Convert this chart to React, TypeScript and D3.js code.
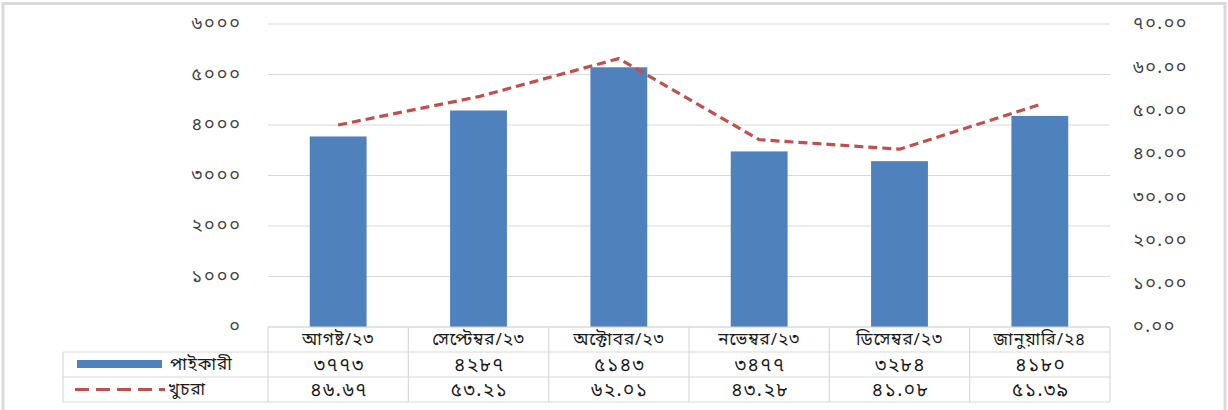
import React from 'react';
import * as d3 from 'd3';

// Monthly wholesale (bars, left axis) and retail (dashed line, right axis) prices.
const months = ['আগষ্ট/২৩', 'সেপ্টেম্বর/২৩', 'অক্টোবর/২৩', 'নভেম্বর/২৩', 'ডিসেম্বর/২৩', 'জানুয়ারি/২৪'];
const wholesale = [3773, 4287, 5143, 3477, 3284, 4180];
const retail = [46.67, 53.21, 62.01, 43.28, 41.08, 51.39];
const leftTicks = [0, 1000, 2000, 3000, 4000, 5000, 6000];
const rightTicks = [0, 10, 20, 30, 40, 50, 60, 70];
const wholesaleLabel = 'পাইকারী';
const retailLabel = 'খুচরা';

const BN = '০১২৩৪৫৬৭৮৯';
const toBn = (s: string) => s.replace(/[0-9]/g, (d) => BN[+d]);

const W = 1228;
const H = 410;
const plot = { left: 268, right: 1110, top: 24, bottom: 327 };
const rows = { cat: 327, r1: 352, r2: 377, end: 402 };
const legendLeft = 63;

const BLUE = '#4F81BD';
const RED = '#C0504D';
const GRID = '#D9D9D9';
const FONT = "'Noto Sans', 'Noto Sans Bengali', 'Vrinda', sans-serif";

export default function App() {
  const x = d3.scaleBand<string>().domain(months).range([plot.left, plot.right]).paddingInner(0).paddingOuter(0);
  const yL = d3.scaleLinear().domain([0, 6000]).range([plot.bottom, plot.top]);
  const yR = d3.scaleLinear().domain([0, 70]).range([plot.bottom, plot.top]);
  const bw = x.bandwidth() * 0.405;

  const line = d3.line<number>()
    .x((_, i) => (x(months[i]) ?? 0) + x.bandwidth() / 2)
    .y((d) => yR(d));

  return (
    <svg width={W} height={H} style={{ position: 'fixed', left: 0, top: 0, background: '#fff' }} fontFamily={FONT}>
      {/* outer frame */}
      <rect x={3} y={3.5} width={W - 6} height={H + 20} fill="none" stroke="#D9D9D9" strokeWidth={3} />

      {/* grid */}
      {leftTicks.map((t) => (
        <line key={t} x1={plot.left} x2={plot.right} y1={yL(t)} y2={yL(t)} stroke={GRID} strokeWidth={1} />
      ))}

      {/* left axis labels */}
      {leftTicks.map((t) => (
        <text key={t} x={242} y={yL(t)} dy="0.3em" textAnchor="end" fontSize={18} letterSpacing={2} fill="#404040">
          {toBn(String(t))}
        </text>
      ))}

      {/* right axis labels */}
      {rightTicks.map((t) => (
        <text key={t} x={1133} y={yR(t)} dy="0.3em" textAnchor="start" fontSize={18} letterSpacing={1.5} fill="#404040">
          {toBn(t.toFixed(2))}
        </text>
      ))}

      {/* bars */}
      {wholesale.map((v, i) => {
        const cx = (x(months[i]) ?? 0) + x.bandwidth() / 2;
        return (
          <rect key={i} x={cx - bw / 2} y={yL(v)} width={bw} height={yL(0) - yL(v)} fill={BLUE} />
        );
      })}

      {/* retail line */}
      <path d={line(retail) ?? ''} fill="none" stroke={RED} strokeWidth={3.2} strokeDasharray="9 5" strokeLinejoin="round" />

      {/* data table */}
      <g stroke={GRID} strokeWidth={1.2} fill="none">
        <line x1={plot.left} x2={plot.right} y1={rows.cat} y2={rows.cat} />
        <line x1={legendLeft} x2={plot.right} y1={rows.r1} y2={rows.r1} />
        <line x1={legendLeft} x2={plot.right} y1={rows.r2} y2={rows.r2} />
        <line x1={legendLeft} x2={plot.right} y1={rows.end} y2={rows.end} />
        <line x1={legendLeft} x2={legendLeft} y1={rows.r1} y2={rows.end} />
        {months.map((m) => (
          <line key={m} x1={x(m)} x2={x(m)} y1={rows.cat} y2={rows.end} />
        ))}
        <line x1={plot.right} x2={plot.right} y1={rows.cat} y2={rows.end} />
      </g>

      {months.map((m, i) => {
        const cx = (x(m) ?? 0) + x.bandwidth() / 2;
        return (
          <g key={m} fontSize={17} fill="#1a1a1a" textAnchor="middle">
            <text x={cx} y={(rows.cat + rows.r1) / 2} dy="0.35em" letterSpacing={1}>{m}</text>
            <text x={cx + 1} y={(rows.r1 + rows.r2) / 2} dy="0.35em" fontSize={19} letterSpacing={1.5}>{toBn(String(wholesale[i]))}</text>
            <text x={cx + 1} y={(rows.r2 + rows.end) / 2} dy="0.35em" fontSize={19} letterSpacing={1.5}>{toBn(retail[i].toFixed(2))}</text>
          </g>
        );
      })}

      {/* legend keys */}
      <rect x={77} y={360} width={85} height={8} fill={BLUE} />
      <text x={170} y={(rows.r1 + rows.r2) / 2} dy="0.35em" fontSize={17} letterSpacing={1} fill="#1a1a1a">{wholesaleLabel}</text>
      <line x1={75} x2={165} y1={389.5} y2={389.5} stroke={RED} strokeWidth={3.2} strokeDasharray="14 7" />
      <text x={168} y={(rows.r2 + rows.end) / 2} dy="0.35em" fontSize={17} letterSpacing={1} fill="#1a1a1a">{retailLabel}</text>
    </svg>
  );
}
